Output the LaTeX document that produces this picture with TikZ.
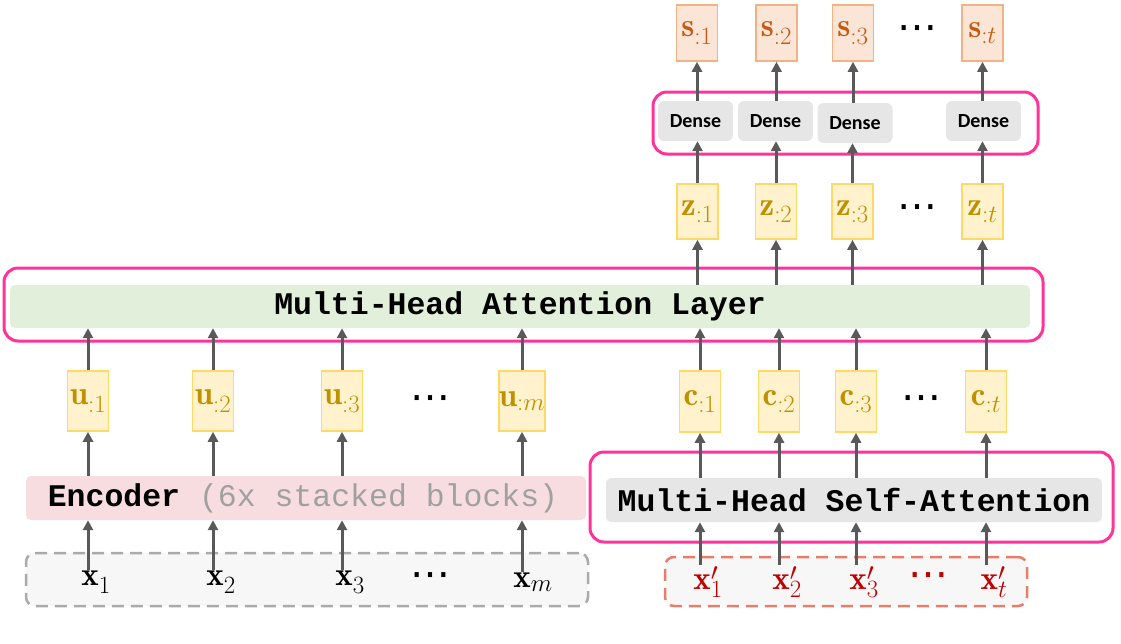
\documentclass[tikz,border=0pt]{standalone}
\usepackage{fontspec}
\setmonofont{Liberation Mono}
\newfontfamily\densefont{Carlito}
\newfontfamily\dotsfont{DejaVu Sans}
\usetikzlibrary{arrows.meta}
\definecolor{pinkline}{RGB}{255,51,153}
\definecolor{greenfill}{RGB}{226,239,218}
\definecolor{yfill}{RGB}{255,242,204}
\definecolor{ydraw}{RGB}{255,217,102}
\definecolor{ytext}{RGB}{191,144,0}
\definecolor{ofill}{RGB}{251,229,214}
\definecolor{odraw}{RGB}{244,177,131}
\definecolor{otext}{RGB}{197,90,17}
\definecolor{grayfill}{RGB}{231,230,230}
\definecolor{encfill}{RGB}{248,221,224}
\definecolor{lightfill}{RGB}{247,247,247}
\definecolor{dashgray}{RGB}{170,170,170}
\definecolor{dashred}{RGB}{232,125,105}
\definecolor{xred}{RGB}{192,0,0}
\definecolor{arrgray}{RGB}{89,89,89}
\definecolor{txtgray}{RGB}{160,160,160}
\tikzset{
  ybox/.style={draw=ydraw, fill=yfill, line width=1.5pt, minimum width=41pt, text=ytext, inner sep=0pt, font=\fontsize{33}{36}\selectfont},
  obox/.style={draw=odraw, fill=ofill, line width=1.5pt, minimum width=41pt, minimum height=56pt, text=otext, inner sep=0pt, font=\fontsize{33}{36}\selectfont},
  densebox/.style={fill=grayfill, rounded corners=6pt, minimum width=75pt, minimum height=40pt, font=\densefont\bfseries\fontsize{20}{22}\selectfont},
  pinkframe/.style={draw=pinkline, line width=3pt, rounded corners=14pt},
  mono/.style={font=\ttfamily\bfseries\fontsize{31.5}{34}\selectfont},
  lab/.style={font=\fontsize{33}{36}\selectfont, inner sep=1pt},
  dots/.style={font=\dotsfont\fontsize{40}{42}\selectfont, inner sep=0pt},
  arr/.style={draw=arrgray, line width=3pt, -{Triangle[width=10pt,length=10pt]}},
}
\begin{document}
\begin{tikzpicture}[x=1pt,y=-1pt]
\useasboundingbox (0,0) rectangle (1121,643);

% frames
\node[pinkframe, minimum width=1039pt, minimum height=73pt] (mhaf) at (523.5,304.5) {};
\node[pinkframe, minimum width=523pt, minimum height=90pt] (saf) at (851.5,497) {};
\node[pinkframe, minimum width=385pt, minimum height=62pt] (df) at (845.5,123) {};

% big boxes
\node[fill=greenfill, rounded corners=5pt, minimum width=1020pt, minimum height=43pt, mono] (mha) at (520,306.5) {Multi-Head Attention Layer};
\node[fill=encfill, rounded corners=5pt, minimum width=560pt, minimum height=44pt, mono] (enc) at (306,498) {Encoder {\mdseries\color{txtgray}(6x stacked blocks)}\hspace*{6pt}};
\node[fill=grayfill, rounded corners=5pt, minimum width=496pt, minimum height=44pt, mono] (sa) at (854,500) {Multi-Head Self-Attention};
\node[fill=lightfill, draw=dashgray, dashed, dash pattern=on 12pt off 7pt, line width=2.5pt, rounded corners=9pt, minimum width=562pt, minimum height=53pt] (inbox) at (307,579.5) {};
\node[fill=lightfill, draw=dashred, dashed, dash pattern=on 12pt off 7pt, line width=2.5pt, rounded corners=9pt, minimum width=362pt, minimum height=49pt] (inboxr) at (846,581.5) {};

% u boxes
\node[ybox, minimum height=60pt] (u1) at (88,401) {$\mathbf{u}_{:1}$};
\node[ybox, minimum height=60pt] (u2) at (213,401) {$\mathbf{u}_{:2}$};
\node[ybox, minimum height=60pt] (u3) at (342,401) {$\mathbf{u}_{:3}$};
\node[dots] (ud) at (430,403) {⋯};
\node[ybox, minimum height=60pt] (um) at (522,401) {$\mathbf{u}_{:m}$};

% c boxes
\node[ybox, minimum height=61pt] (c1) at (700,401.5) {$\mathbf{c}_{:1}$};
\node[ybox, minimum height=61pt] (c2) at (779,401.5) {$\mathbf{c}_{:2}$};
\node[ybox, minimum height=61pt] (c3) at (856,401.5) {$\mathbf{c}_{:3}$};
\node[dots] (cd) at (921,403) {⋯};
\node[ybox, minimum height=61pt] (ct) at (986,401.5) {$\mathbf{c}_{:t}$};

% z boxes
\node[ybox, minimum height=55pt] (z1) at (697.5,211.5) {$\mathbf{z}_{:1}$};
\node[ybox, minimum height=55pt] (z2) at (776,211.5) {$\mathbf{z}_{:2}$};
\node[ybox, minimum height=55pt] (z3) at (852.5,211.5) {$\mathbf{z}_{:3}$};
\node[dots] (zd) at (917,212) {⋯};
\node[ybox, minimum height=55pt] (zt) at (982.5,211.5) {$\mathbf{z}_{:t}$};

% dense
\node[densebox] (d1) at (695.5,121) {Dense};
\node[densebox] (d2) at (775.5,121) {Dense};
\node[densebox] (d3) at (855,123) {Dense};
\node[densebox] (d4) at (983.5,121) {Dense};

% s boxes
\node[obox] (s1) at (697,33) {$\mathbf{s}_{:1}$};
\node[obox] (s2) at (776.5,33) {$\mathbf{s}_{:2}$};
\node[obox] (s3) at (853,33) {$\mathbf{s}_{:3}$};
\node[dots] (sd) at (917,33) {⋯};
\node[obox] (st) at (982.5,33) {$\mathbf{s}_{:t}$};

% inputs
\node[lab] (x1) at (96,582) {$\mathbf{x}_1$};
\node[lab] (x2) at (221,582) {$\mathbf{x}_2$};
\node[lab] (x3) at (350,582) {$\mathbf{x}_3$};
\node[dots] (xd) at (430,580) {⋯};
\node[lab] (xm) at (533,582) {$\mathbf{x}_m$};

\node[lab, text=xred] (xp1) at (708,582) {$\mathbf{x}'_1$};
\node[lab, text=xred] (xp2) at (787,582) {$\mathbf{x}'_2$};
\node[lab, text=xred] (xp3) at (864,582) {$\mathbf{x}'_3$};
\node[dots, text=xred] (xpd) at (928,580) {⋯};
\node[lab, text=xred] (xpt) at (994,582) {$\mathbf{x}'_t$};

% arrows left
\foreach \u/\x in {u1/x1,u2/x2,u3/x3,um/xm}{
  \draw[arr] (\x.north -| \u) -- (\u |- enc.south);
  \draw[arr] (\u |- enc.north) -- (\u.south);
  \draw[arr] (\u.north) -- (\u |- mha.south);
}
% arrows right
\foreach \c/\x/\z/\d/\s in {c1/xp1/z1/d1/s1,c2/xp2/z2/d2/s2,c3/xp3/z3/d3/s3,ct/xpt/zt/d4/st}{
  \draw[arr] (\x.north -| \c) -- (\c |- sa.south);
  \draw[arr] (\c |- sa.north) -- (\c.south);
  \draw[arr] (\c.north) -- (\c |- mha.south);
  \draw[arr] (\z |- mha.north) -- (\z.south);
  \draw[arr] (\z.north) -- (\z |- \d.south);
  \draw[arr] (\s |- \d.north) -- (\s.south);
}
\end{tikzpicture}
\end{document}
